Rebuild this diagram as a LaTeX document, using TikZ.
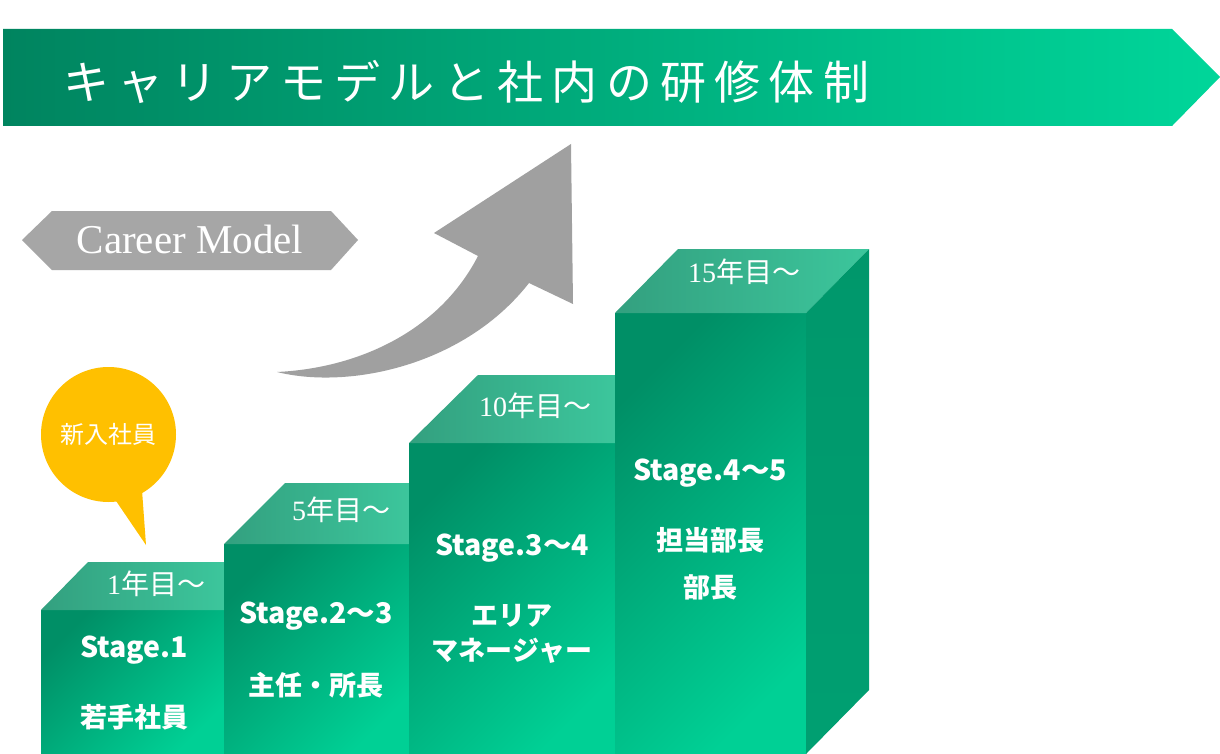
\documentclass[tikz,border=0pt]{standalone}
\usepackage{fontspec}
\setmainfont{Liberation Serif}
\newfontfamily\cjk{Noto Sans CJK JP}
\newfontfamily\cjktitle[LetterSpace=18]{Noto Sans CJK JP}
\newcommand\wave{～}
\definecolor{bannerL}{HTML}{00845F}
\definecolor{bannerR}{HTML}{00D69A}
\definecolor{frontA}{HTML}{008F66}
\definecolor{frontB}{HTML}{00D095}
\definecolor{topA}{HTML}{33A07F}
\definecolor{topB}{HTML}{3CC69C}
\definecolor{sideC}{HTML}{00976B}
\definecolor{tagGray}{HTML}{A6A6A6}
\definecolor{arrowGray}{HTML}{A0A0A0}
\definecolor{bubbleY}{HTML}{FFC000}
\begin{document}
\begin{tikzpicture}[x=1pt,y=-1pt,
  frontface/.style={top color=frontA,bottom color=frontB,shading angle=45},
  topface/.style={left color=topA,right color=topB},
  sideface/.style={top color=sideC,bottom color=sideC!85!frontB},
  yearlbl/.style={anchor=base,inner sep=0pt,text=white,font=\fontsize{28}{30}\selectfont},
  stagelbl/.style={anchor=base,inner sep=0pt,text=white,font=\cjk\bfseries\fontsize{28.5}{32}\selectfont},
  rolelbl/.style={anchor=base,inner sep=0pt,text=white,align=center,font=\cjk\bfseries\fontsize{27}{35}\selectfont}]
\useasboundingbox (0,0) rectangle (1220,754);
\fill[white] (0,0) rectangle (1220,754);

% banner
\path[left color=bannerL,right color=bannerR] (3,29) -- (1172,29) -- (1220,77) -- (1172,126) -- (3,126) -- cycle;
\node[anchor=base west,inner sep=0pt,text=white,font=\cjktitle\fontsize{46}{50}\selectfont] (title) at (63,100) {キャリアモデルと社内の研修体制};

% Career Model tag
\fill[tagGray] (22,240) -- (52,211) -- (331,211) -- (358,240) -- (331,270) -- (52,270) -- cycle;
\node[anchor=base,inner sep=0pt,text=white,font=\fontsize{41}{43}\selectfont] (career) at (190,253) {Career Model};

% curved arrow
\fill[arrowGray] (277,372) .. controls (360,368) and (440,330) .. (478,256) -- (434,233) -- (571,144) -- (573,304) -- (529,283) .. controls (465,365) and (350,390) .. (277,372) -- cycle;

% speech bubble
\node[circle,fill=bubbleY,minimum size=135pt,inner sep=0pt] (bubble) at (108.5,434.5) {};
\coordinate (tailtip) at (146,545);
\fill[bubbleY] (112,495) -- (tailtip) -- (142,490) -- cycle;
\node[anchor=base,inner sep=0pt,text=white,font=\cjk\fontsize{24}{26}\selectfont] (newlbl) at (108.5,443) {新入社員};

% box 1
\path[frontface] (41,610) rectangle (224,754);
\path[topface] (41,610) -- (88,562) -- (224,562) -- (224,610) -- cycle;
\node[yearlbl] (y1) at (156,594) {1{\cjk 年目～}};
\node[stagelbl] (s1) at (134,657) {Stage.1};
\node[rolelbl] (r1) at (134,727) {若手社員};

% box 2
\path[frontface] (224,544) rectangle (409,754);
\path[topface] (224,544) -- (285,483) -- (409,483) -- (409,544) -- cycle;
\node[yearlbl] (y2) at (341,520) {5{\cjk 年目～}};
\node[stagelbl] (s2) at (316,623) {Stage.2\wave3};
\node[rolelbl] (r2) at (316,695) {主任・所長};

% box 3
\path[frontface] (409,443) rectangle (615,754);
\path[topface] (409,443) -- (478,375) -- (615,375) -- (615,443) -- cycle;
\node[yearlbl] (y3) at (535,416) {10{\cjk 年目～}};
\node[stagelbl] (s3) at (512,555) {Stage.3\wave4};
\node[rolelbl] (r3) at (512,660) {エリア\\マネージャー};

% box 4
\path[frontface] (615,313) rectangle (806,754);
\path[topface] (615,313) -- (678,249) -- (869,249) -- (806,313) -- cycle;
\path[sideface] (806,313) -- (869,249) -- (869,690) -- (806,754) -- cycle;
\node[yearlbl] (y4) at (744,282) {15{\cjk 年目～}};
\node[stagelbl] (s4) at (710,480) {Stage.4\wave5};
\node[rolelbl,font=\cjk\bfseries\fontsize{27}{47}\selectfont] (r4) at (710,597) {担当部長\\部長};
\end{tikzpicture}
\end{document}
